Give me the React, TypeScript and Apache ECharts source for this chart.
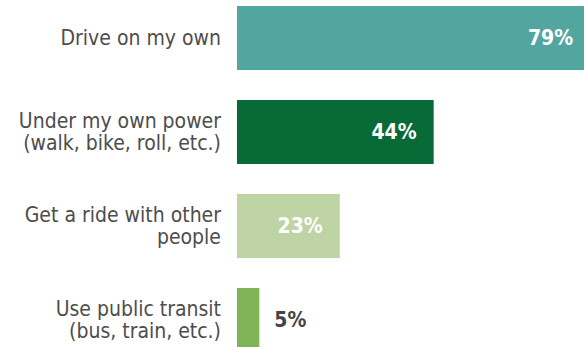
import React, { useEffect, useRef } from "react";
import * as echarts from "echarts";

const categories = [
  "Drive on my own",
  "Under my own power\n(walk, bike, roll, etc.)",
  "Get a ride with other\npeople",
  "Use public transit\n(bus, train, etc.)",
];
const values = [79, 44, 23, 5];
const barColors = ["#53a6a0", "#076a37", "#bfd4a5", "#80b357"];

export default function App() {
  const ref = useRef<HTMLDivElement>(null);
  useEffect(() => {
    document.body.style.margin = "0";
    document.body.style.overflow = "hidden";
    const chart = echarts.init(ref.current!, null, { renderer: "svg" });
    const font = "'DejaVu Sans Condensed', 'Liberation Sans Narrow', sans-serif";
    chart.setOption({
      animation: false,
      grid: { left: 237, right: 0, top: 0, bottom: 0 },
      xAxis: { type: "value", min: 0, max: 100, show: false },
      yAxis: {
        type: "category",
        inverse: true,
        data: categories,
        axisLine: { show: false },
        axisTick: { show: false },
        axisLabel: {
          margin: 16,
          fontFamily: font,
          fontSize: 21,
          lineHeight: 22,
          color: "#4d4d4d",
          align: "right",
        },
      },
      series: [
        {
          type: "bar",
          barWidth: 64,
          data: values.map((v, i) => ({
            value: v,
            itemStyle: { color: barColors[i] },
            label:
              v < 10
                ? { position: "right", distance: 15, color: "#444444" }
                : { position: "insideRight", distance: 17, color: "#ffffff" },
          })),
          label: {
            show: true,
            formatter: "{c}%",
            fontFamily: font,
            fontWeight: "bold",
            fontSize: 21,
          },
        },
      ],
    });
    return () => chart.dispose();
  }, []);
  return (
    <div
      ref={ref}
      style={{ position: "absolute", left: 0, top: -9, width: 684, height: 376 }}
    />
  );
}
